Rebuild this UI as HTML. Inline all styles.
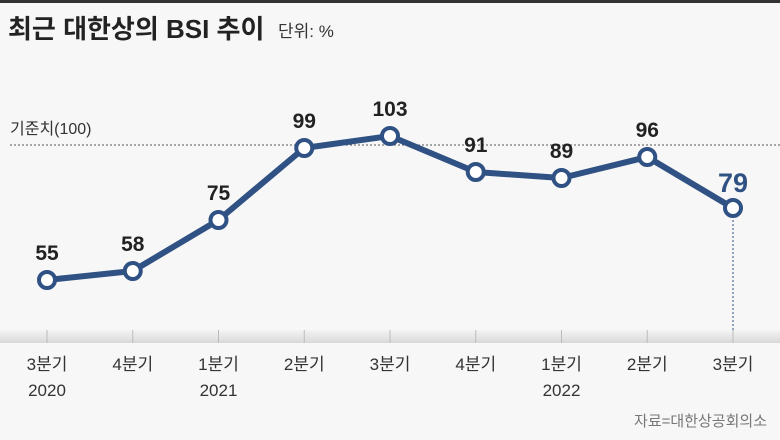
<!DOCTYPE html>
<html><head><meta charset="utf-8"><style>
body{margin:0;background:#f7f7f7;}
svg{display:block;font-family:"Liberation Sans","Noto Sans CJK KR",sans-serif;}
</style></head><body>
<svg id="c" width="780" height="440" viewBox="0 0 780 440">
<defs><linearGradient id="g" x1="0" y1="0" x2="0" y2="1"><stop offset="0" stop-color="#f4f4f4"/><stop offset="1" stop-color="#d8d8d8"/></linearGradient></defs>
<rect x="0" y="0" width="780" height="440" fill="#f7f7f7"/>
<rect x="0" y="0" width="780" height="3" fill="#333"/>
<text x="8" y="38" font-size="26" font-weight="bold" fill="#222">최근 대한상의 BSI 추이</text>
<text x="278" y="37" font-size="17" fill="#333">단위: %</text>
<rect x="0" y="330" width="780" height="13" fill="url(#g)"/>
<text x="10" y="134" font-size="16" fill="#333">기준치(100)</text>
<g id="marks"></g>
<text x="767" y="426" font-size="15" fill="#777" text-anchor="end">자료=대한상공회의소</text>
</svg>
<script>
const categories=["3분기","4분기","1분기","2분기","3분기","4분기","1분기","2분기","3분기"];
const years=["2020","","2021","","","","2022","",""];
const values=[55,58,75,99,103,91,89,96,79];
const refValue=100;
const NS="http://www.w3.org/2000/svg";
const g=document.getElementById("marks");
const xs=i=>47+i*85.75;
const ys=v=>280-(v-55)*3;
function mk(t,a){const e=document.createElementNS(NS,t);for(const k in a)e.setAttribute(k,a[k]);g.appendChild(e);return e;}
let r=mk("line",{x1:10,x2:780,y1:ys(refValue),y2:ys(refValue),stroke:"#555","stroke-dasharray":"2,2","stroke-width":1});


const n=values.length;
let vl=mk("line",{x1:xs(n-1),x2:xs(n-1),y1:ys(values[n-1]),y2:343,stroke:"#2f5183","stroke-dasharray":"2,2","stroke-width":1});


categories.forEach((c,i)=>{
 let t=mk("line",{x1:xs(i),x2:xs(i),y1:330,y2:343,stroke:"#bbb"});
 
 
 let l=mk("text",{x:xs(i),y:370,"font-size":17,fill:"#333","text-anchor":"middle"});l.textContent=c;
 
 
 if(years[i]){let y=mk("text",{x:xs(i),y:396,"font-size":17,fill:"#333","text-anchor":"middle"});y.textContent=years[i];
 
 }
});
let p=mk("polyline",{points:values.map((v,i)=>xs(i)+","+ys(v)).join(" "),fill:"none",stroke:"#2f5183","stroke-width":6,"stroke-linejoin":"round"});


values.forEach((v,i)=>{
 let c=mk("circle",{cx:xs(i),cy:ys(v),r:8,fill:"#fff",stroke:"#2f5183","stroke-width":4});
 
 
 const last=i===n-1;
 let t=mk("text",{x:xs(i),y:ys(v)-(last?16:20),"font-size":last?27:21,"font-weight":"bold",fill:last?"#2f5183":"#222","text-anchor":"middle"});t.textContent=v;
 
 
});
</script>
</body></html>
